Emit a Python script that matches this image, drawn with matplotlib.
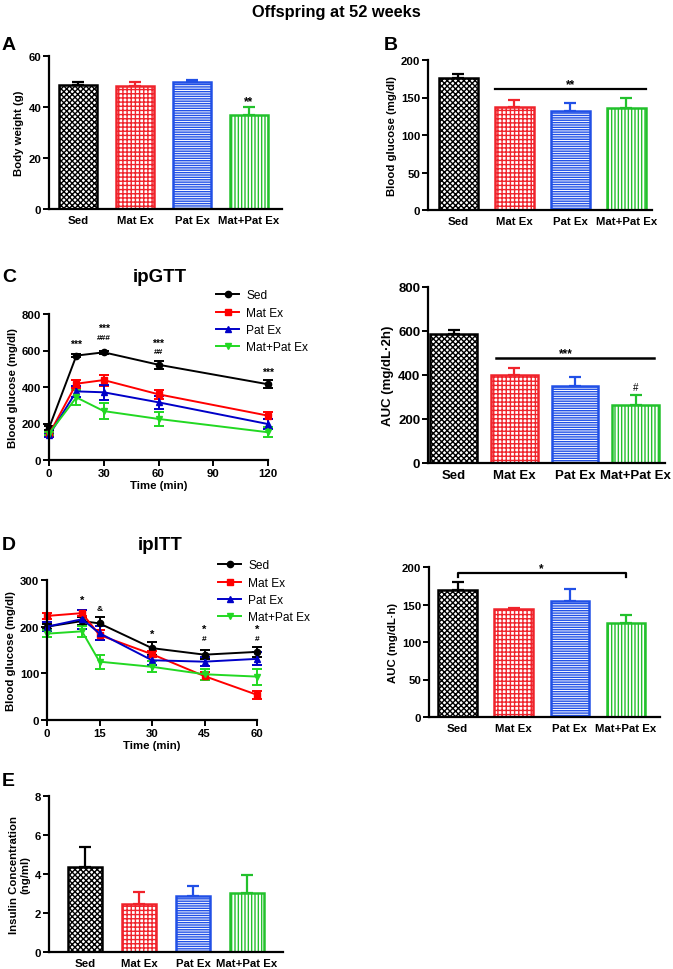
import matplotlib.pyplot as plt
from matplotlib.lines import Line2D
import numpy as np

plt.rcParams['font.family'] = ['Liberation Sans', 'DejaVu Sans']
plt.rcParams['hatch.linewidth'] = 1.0

W, H = 673, 970

groups = ['Sed', 'Mat Ex', 'Pat Ex', 'Mat+Pat Ex']
bar_cols = ['#000000', '#f0232b', '#2150e6', '#22c12c']
line_cols = ['#000000', '#ff0000', '#0000c8', '#22d822']
hatches = ['xxxxxx', '++++', '-------', '|||||']
markers = ['o', 's', '^', 'v']

# A: body weight
bw = [48.5, 48.3, 49.7, 36.8]
bw_err = [1.5, 1.7, 0.7, 3.2]
# B: fasting blood glucose
bg = [176, 137, 132, 136]
bg_err = [5, 10, 11, 14]
# C: ipGTT
gtt_t = [0, 15, 30, 60, 120]
gtt_sed = [175, 572, 590, 522, 415]
gtt_mat = [140, 418, 438, 360, 243]
gtt_pat = [135, 376, 371, 316, 197]
gtt_both = [145, 343, 268, 225, 152]
gtt_sed_err = [12, 8, 8, 22, 22]
gtt_mat_err = [10, 22, 30, 25, 18]
gtt_pat_err = [10, 30, 40, 35, 25]
gtt_both_err = [10, 40, 45, 38, 28]
gtt_auc = [588, 400, 350, 265]
gtt_auc_err = [17, 32, 40, 45]
# D: ipITT
itt_t = [0, 10, 15, 30, 45, 60]
itt_sed = [200, 212, 207, 154, 140, 146]
itt_mat = [223, 229, 182, 141, 94, 54]
itt_pat = [200, 216, 186, 128, 125, 131]
itt_both = [185, 190, 125, 114, 98, 93]
itt_sed_err = [6, 8, 14, 14, 10, 10]
itt_mat_err = [7, 7, 10, 7, 8, 8]
itt_pat_err = [10, 20, 15, 10, 10, 14]
itt_both_err = [8, 12, 15, 12, 12, 17]
itt_auc = [170, 144, 155, 125]
itt_auc_err = [10, 2, 16, 11]
# E: insulin
ins = [4.35, 2.45, 2.85, 3.05]
ins_err = [1.05, 0.65, 0.55, 0.88]

fig = plt.figure(figsize=(W / 100, H / 100), dpi=100)

FS = 8.2


def axes_px(left, top, right, bottom):
    return fig.add_axes([left / W, 1 - bottom / H, (right - left) / W, (bottom - top) / H])


def style(ax, fs=FS):
    for s in ['top', 'right']:
        ax.spines[s].set_visible(False)
    for s in ['left', 'bottom']:
        ax.spines[s].set_linewidth(1.6)
    ax.tick_params(width=1.4, length=4, labelsize=fs, pad=1.5)
    for lab in ax.get_xticklabels() + ax.get_yticklabels():
        lab.set_fontweight('bold')


def bar_panel(ax, vals, errs, xlo, xhi, width, ylim, yticks, ylabel, fs=FS, lw=1.8):
    x = np.arange(4)
    for i in range(4):
        ax.bar(x[i], vals[i], width, color='white', edgecolor=bar_cols[i],
               hatch=hatches[i], linewidth=lw, zorder=2)
        ax.errorbar(x[i], vals[i], yerr=[[0], [errs[i]]], color=bar_cols[i],
                    capsize=4, elinewidth=1.6, capthick=1.6, zorder=1)
    ax.set_xlim(xlo, xhi)
    ax.set_ylim(*ylim)
    ax.set_yticks(yticks)
    ax.set_xticks(x)
    ax.set_xticklabels(groups)
    ax.set_ylabel(ylabel, fontsize=fs, fontweight='bold', labelpad=3)
    style(ax, fs)
    ax.tick_params(axis='x', length=0, pad=4)


def line_panel(ax, t, series, errs):
    for ys, es, c, m in zip(series, errs, line_cols, markers):
        ax.errorbar(t, ys, yerr=es, color=c, marker=m, markersize=4.5, lw=1.4,
                    capsize=3.5, elinewidth=1.4, capthick=1.4, clip_on=False)
    ax.set_xlabel('Time (min)', fontsize=FS, fontweight='bold', labelpad=2)
    ax.set_ylabel('Blood glucose (mg/dl)', fontsize=FS, fontweight='bold', labelpad=3)


def add_legend(ax, x, y):
    handles = [Line2D([], [], color=c, marker=m, markersize=4.5, lw=1.4)
               for c, m in zip(line_cols, markers)]
    ax.legend(handles, groups, loc='upper left', bbox_to_anchor=(x / W, 1 - y / H),
              bbox_transform=fig.transFigure, frameon=False, fontsize=8.6,
              handlelength=1.9, labelspacing=0.45, handletextpad=0.6, borderpad=0.2)


# title
fig.text(0.5, 1 - 12 / H, 'Offspring at 52 weeks', ha='center', va='center',
         fontsize=11.8, fontweight='bold')

# A
axA = axes_px(49, 57, 282, 210)
bar_panel(axA, bw, bw_err, -0.51, 3.58, 0.68, (0, 60), [0, 20, 40, 60], 'Body weight (g)')
axA.text(3, 41, '**', ha='center', fontsize=8.5, fontweight='bold')
fig.text(2 / W, 1 - 45 / H, 'A', fontsize=14, fontweight='bold', va='center')

# B
axB = axes_px(428, 61, 652, 211)
bar_panel(axB, bg, bg_err, -0.54, 3.46, 0.7, (0, 200), [0, 50, 100, 150, 200],
          'Blood glucose (mg/dl)')
axB.plot([0.65, 3.35], [161, 161], color='black', lw=1.6)
axB.text(2.0, 164, '**', ha='center', fontsize=8.5, fontweight='bold')
fig.text(384 / W, 1 - 45 / H, 'B', fontsize=14, fontweight='bold', va='center')

# C line
axC = axes_px(49, 315, 268, 461)
line_panel(axC, gtt_t, [gtt_sed, gtt_mat, gtt_pat, gtt_both],
           [gtt_sed_err, gtt_mat_err, gtt_pat_err, gtt_both_err])
axC.set_xlim(0, 120)
axC.set_ylim(0, 800)
axC.set_xticks([0, 30, 60, 90, 120])
axC.set_yticks([0, 200, 400, 600, 800])
style(axC)
for xx, yy, s, f in [(15, 608, '***', 7.5), (30, 697, '***', 7.5), (30, 650, '###', 6),
                     (60, 617, '***', 7.5), (60, 578, '##', 6), (120, 458, '***', 7.5)]:
    axC.text(xx, yy, s, ha='center', va='bottom', fontsize=f, fontweight='bold')
add_legend(axC, 208, 282)
fig.text(160 / W, 1 - 277 / H, 'ipGTT', ha='center', va='center', fontsize=13.5,
         fontweight='bold')
fig.text(2 / W, 1 - 278 / H, 'C', fontsize=14, fontweight='bold', va='center')

# C AUC
axCA = axes_px(428, 288, 665, 464)
bar_panel(axCA, gtt_auc, gtt_auc_err, -0.42, 3.48, 0.77, (0, 800), [0, 200, 400, 600, 800],
          'AUC (mg/dL\u00b72h)', fs=9.5)
axCA.plot([0.7, 3.3], [476, 476], color='black', lw=1.8)
axCA.text(1.85, 487, '***', ha='center', fontsize=8.5, fontweight='bold')
axCA.text(3, 330, '#', ha='center', fontsize=7)

# D line
axD = axes_px(47, 581, 257, 721)
line_panel(axD, itt_t, [itt_sed, itt_mat, itt_pat, itt_both],
           [itt_sed_err, itt_mat_err, itt_pat_err, itt_both_err])
axD.set_xlim(0, 60)
axD.set_ylim(0, 300)
axD.set_xticks([0, 15, 30, 45, 60])
axD.set_yticks([0, 100, 200, 300])
style(axD)
for xx, yy, s, f in [(10, 246, '*', 8), (15, 232, '&', 6), (30, 173, '*', 8),
                     (45, 184, '*', 8), (45, 167, '#', 6), (60, 184, '*', 8),
                     (60, 167, '#', 6)]:
    axD.text(xx, yy, s, ha='center', va='bottom', fontsize=f, fontweight='bold')
add_legend(axD, 210, 552)
fig.text(160 / W, 1 - 545 / H, 'ipITT', ha='center', va='center', fontsize=13.5,
         fontweight='bold')
fig.text(2 / W, 1 - 545 / H, 'D', fontsize=14, fontweight='bold', va='center')

# D AUC
axDA = axes_px(429, 568, 660, 718)
bar_panel(axDA, itt_auc, itt_auc_err, -0.51, 3.61, 0.685, (0, 200), [0, 50, 100, 150, 200],
          'AUC (mg/dL\u00b7h)')
axDA.plot([0, 0, 3, 3], [187, 192, 192, 187], color='black', lw=1.6, clip_on=False)
axDA.text(1.5, 195, '*', ha='center', fontsize=8.5, fontweight='bold')

# E
axE = axes_px(49, 797, 283, 953)
bar_panel(axE, ins, ins_err, -0.67, 3.67, 0.64, (0, 8), [0, 2, 4, 6, 8],
          'Insulin Concentration\n(ng/ml)')
fig.text(2 / W, 1 - 782 / H, 'E', fontsize=14, fontweight='bold', va='center')

fig.savefig('out.png', dpi=100)
